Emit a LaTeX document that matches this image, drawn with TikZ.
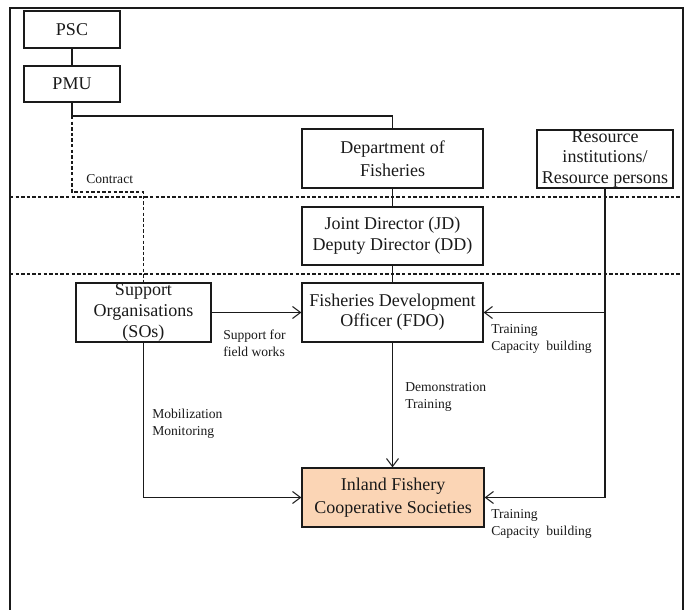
\documentclass[tikz,border=0pt]{standalone}
\usepackage{fontspec}
\setmainfont{Liberation Serif}
\usetikzlibrary{arrows.meta}
\definecolor{peach}{HTML}{FBD5B5}
\definecolor{ink}{HTML}{1A1A1A}
\tikzset{
  unit/.style={draw=ink, line width=0.9pt, align=center, inner sep=0pt,
    font=\fontsize{13.5pt}{16pt}\selectfont, text=ink},
  note/.style={anchor=west, align=left, inner sep=0pt,
    font=\fontsize{10.2pt}{12.75pt}\selectfont, text=ink},
  link/.style={draw=ink, line width=0.9pt},
  flow/.style={link, -{Straight Barb[length=6pt, width=9pt, line width=0.8pt]}},
  tier/.style={draw=ink, line width=0.8pt, dash pattern=on 2.6pt off 1.6pt},
}
\begin{document}
\begin{tikzpicture}[x=0.75pt, y=-0.75pt]
\useasboundingbox (0,0) rectangle (689,610);

% outer frame (open at the bottom)
\draw[ink, line width=1pt] (10,610) -- (10,8) -- (683,8) -- (683,610);

% tier separators
\coordinate (t1l) at (10,197);  \coordinate (t1r) at (683,197);
\coordinate (t2l) at (10,274);  \coordinate (t2r) at (683,274);
\draw[tier] (t1l) -- (t1r);
\draw[tier] (t2l) -- (t2r);

% units
\node[unit, minimum width=96pt*0.75, minimum height=37pt*0.75] (psc) at (72,29.5) {PSC};
\node[unit, minimum width=96pt*0.75, minimum height=36pt*0.75] (pmu) at (72,84) {PMU};
\node[unit, minimum width=181pt*0.75, minimum height=59pt*0.75, font=\fontsize{13.5pt}{17.5pt}\selectfont]
  (dof) at (392.5,158.5) {Department of\\Fisheries};
\node[unit, minimum width=136pt*0.75, minimum height=58pt*0.75, font=\fontsize{13.5pt}{15.2pt}\selectfont]
  (res) at (605,159) {Resource\\institutions/\\Resource persons};
\node[unit, minimum width=181pt*0.75, minimum height=58pt*0.75] (jd) at (392.5,236)
  {Joint Director (JD)\\Deputy Director (DD)};
\node[unit, minimum width=181pt*0.75, minimum height=59pt*0.75, font=\fontsize{13.5pt}{15pt}\selectfont]
  (fdo) at (392.5,312.5) {Fisheries Development\\Officer (FDO)};
\node[unit, minimum width=135pt*0.75, minimum height=59pt*0.75, font=\fontsize{13.5pt}{15.8pt}\selectfont]
  (so) at (143.5,312.5) {Support\\Organisations\\(SOs)};
\node[unit, fill=peach, minimum width=182pt*0.75, minimum height=59pt*0.75, font=\fontsize{13.5pt}{17pt}\selectfont]
  (ifcs) at (393,497.5) {Inland Fishery\\Cooperative Societies};

% hierarchy lines
\coordinate (pmuturn) at (72,116);
\coordinate (contractturn) at (143.5,192);
\draw[link] (psc) -- (pmu);
\draw[link] (pmu.south) -- (pmuturn) -| (dof.north);
\draw[tier] (pmuturn) |- (contractturn) -- (so.north);
\draw[link] (dof) -- (jd);
\draw[link] (jd) -- (fdo);

% support flows
\draw[flow] (so.east) -- (fdo.west);
\draw[flow] (fdo.south) -- (fdo.south |- ifcs.north);
\draw[flow] (so.south) |- (ifcs.west);
\draw[flow] (res.south) |- (fdo.east);
\draw[flow] (res.south) |- (ifcs.east);

% flow labels
\node[note] (lcontract) at (86,179) {Contract};
\node[note] (lfield) at (223,343.5) {Support for\\field works};
\node[note] (ltrain1) at (491,338.5) {Training\\Capacity\hspace{2.5pt} building};
\node[note] (ldemo) at (405,396.5) {Demonstration\\Training};
\node[note] (lmob) at (152,424) {Mobilization\\Monitoring};
\node[note] (ltrain2) at (491,524) {Training\\Capacity\hspace{2.5pt} building};
\end{tikzpicture}
\end{document}
